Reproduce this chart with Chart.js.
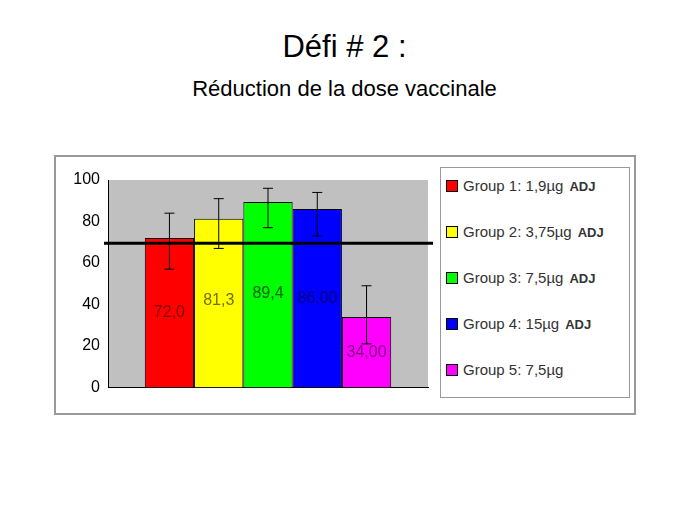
<!DOCTYPE html>
<html>
<head>
<meta charset="utf-8">
<script src="https://cdn.jsdelivr.net/npm/chart.js@4"></script>
<style>
    body { margin: 0; background: #fff; font-family: "Liberation Sans", Arial, sans-serif; }
    #page { position: relative; width: 689px; height: 517px; }
    .title { position: absolute; left: 0; width: 689px; text-align: center; color: #000; }
    #frame { position: absolute; left: 54px; top: 155px; width: 578px; height: 256px; border: 2px solid #999; }
    #chartBox { position: absolute; left: 54px; top: 160px; width: 385px; height: 240px; }
    #legend { position: absolute; left: 440px; top: 167px; width: 188px; height: 229px; border: 1px solid #999; background: #fff; }
    .item { position: absolute; left: 5px; font-size: 15px; color: #333; white-space: nowrap; }
    .sw { display: inline-block; width: 10px; height: 10px; border: 1px solid #000; margin-right: 5px; vertical-align: -1px; }
    .adj { font-weight: bold; font-size: 13px; margin-left: 6px; }
</style>
</head>
<body>
<div id="page">
    <div class="title" style="top:29px;font-size:31px;">Défi # 2 :</div>
    <div class="title" style="top:76px;font-size:22px;">Réduction de la dose vaccinale</div>
    <div id="frame"></div>
    <div id="chartBox"><canvas id="chart"></canvas></div>
    <div id="legend"></div>
</div>
<script>
// Data
const groups = ['Group 1: 1,9µg', 'Group 2: 3,75µg', 'Group 3: 7,5µg', 'Group 4: 15µg', 'Group 5: 7,5µg'];
const adjuvant = [true, true, true, true, false];
const values = [72.0, 81.3, 89.4, 86.0, 34.0];
const valueLabels = ['72,0', '81,3', '89,4', '86,00', '34,00'];
const errLow = [57, 67, 77, 73, 21];
const errHigh = [84, 91, 96, 94, 49];
const threshold = 69.5;
const yTicks = [0, 10, 20, 30, 40, 50, 60, 70, 80, 90, 100];

const colors = ['#ff0000', '#ffff00', '#00ff00', '#0000ff', '#ff00ff'];
const textColors = ['#800000', '#707000', '#006000', '#000080', '#800080'];
const labelAt = [36, 42, 45, 43, 17];

// Legend
const legend = document.getElementById('legend');
groups.forEach((g, i) => {
    const d = document.createElement('div');
    d.className = 'item';
    d.style.top = (9 + i * 46) + 'px';
    d.innerHTML = `<span class="sw" style="background:${colors[i]}"></span>${g}` +
        (adjuvant[i] ? '<span class="adj">ADJ</span>' : '');
    legend.appendChild(d);
});

const extras = {
    id: 'extras',
    beforeDraw(chart) {
        const { ctx, chartArea: a } = chart;
        ctx.save();
        ctx.fillStyle = '#c0c0c0';
        ctx.fillRect(a.left, a.top, a.right - a.left, a.bottom - a.top);
        ctx.restore();
    },
    afterDatasetsDraw(chart) {
        const { ctx, chartArea: a } = chart;
        const y = chart.scales.y;
        ctx.save();
        chart.data.datasets.forEach((ds, i) => {
            const bar = chart.getDatasetMeta(i).data[0];
            const x = bar.x;
            const top = y.getPixelForValue(errHigh[i]);
            const bot = y.getPixelForValue(errLow[i]);
            ctx.strokeStyle = '#000';
            ctx.lineWidth = 1;
            ctx.beginPath();
            ctx.moveTo(x, top); ctx.lineTo(x, bot);
            ctx.moveTo(x - 5, top); ctx.lineTo(x + 5, top);
            ctx.moveTo(x - 5, bot); ctx.lineTo(x + 5, bot);
            ctx.stroke();
            ctx.fillStyle = textColors[i];
            ctx.font = '16px "Liberation Sans", Arial';
            ctx.textAlign = 'center';
            ctx.textBaseline = 'middle';
            ctx.fillText(valueLabels[i], x, y.getPixelForValue(labelAt[i]));
        });
        const ty = y.getPixelForValue(threshold);
        ctx.strokeStyle = '#000';
        ctx.lineWidth = 3;
        ctx.beginPath();
        ctx.moveTo(a.left - 4, ty);
        ctx.lineTo(a.right + 5, ty);
        ctx.stroke();
        ctx.restore();
    }
};

new Chart(document.getElementById('chart'), {
    type: 'bar',
    data: {
        labels: [''],
        datasets: groups.map((g, i) => ({
            label: g,
            data: [values[i]],
            backgroundColor: colors[i],
            borderColor: '#000',
            borderWidth: 1,
            categoryPercentage: 0.77,
            barPercentage: 1
        }))
    },
    options: {
        responsive: true,
        maintainAspectRatio: false,
        animation: false,
        layout: { padding: { top: 20, bottom: 10, right: 11 } },
        plugins: { legend: { display: false }, tooltip: { enabled: false } },
        scales: {
            x: {
                display: true,
                grid: { display: false, drawTicks: false },
                border: { color: '#000' },
                ticks: { display: false }
            },
            y: {
                min: 0,
                max: 100,
                afterBuildTicks: s => { s.ticks = yTicks.map(v => ({ value: v })); },
                afterFit: s => { s.width = 54; },
                grid: { display: false, drawOnChartArea: false, drawTicks: true, tickLength: 5, tickColor: '#000' },
                border: { color: '#000' },
                ticks: { color: '#000', font: { family: '"Liberation Sans", Arial', size: 16 }, padding: 3 }
            }
        }
    },
    plugins: [extras]
});
</script>
</body>
</html>
